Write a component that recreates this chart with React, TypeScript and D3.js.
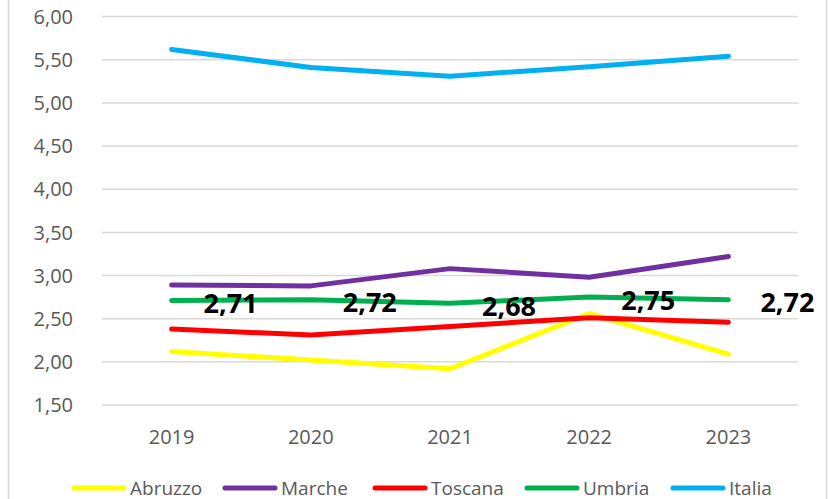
import React from "react";
import * as d3 from "d3";

const years = ["2019", "2020", "2021", "2022", "2023"];
const abruzzo = [2.12, 2.02, 1.92, 2.56, 2.09];
const marche = [2.89, 2.88, 3.08, 2.98, 3.22];
const toscana = [2.38, 2.31, 2.41, 2.51, 2.46];
const umbria = [2.71, 2.72, 2.68, 2.75, 2.72];
const italia = [5.62, 5.41, 5.31, 5.42, 5.54];
const yTicks = [1.5, 2, 2.5, 3, 3.5, 4, 4.5, 5, 5.5, 6];

const series = [
  { name: "Abruzzo", values: abruzzo, color: "#FFFF00" },
  { name: "Marche", values: marche, color: "#7030A0" },
  { name: "Toscana", values: toscana, color: "#FF0000" },
  { name: "Umbria", values: umbria, color: "#00B050" },
  { name: "Italia", values: italia, color: "#00B0F0" },
];

const legendX = [72, 223, 373, 525, 671];

export default function App() {
  const W = 828, H = 499;
  const x = d3.scaleBand<string>().domain(years).range([102, 798]);
  const y = d3.scaleLinear().domain([1.5, 6]).range([405, 16.6]);
  const cx = (d: string) => (x(d) as number) + x.bandwidth() / 2;
  const line = d3
    .line<number>()
    .x((_, i) => cx(years[i]))
    .y((v) => y(v));
  const fmt = (v: number) => v.toFixed(2).replace(".", ",");
  const font = "'Open Sans', 'Noto Sans', sans-serif";

  return (
    <svg
      width={W}
      height={H}
      style={{ position: "absolute", left: 0, top: 0, background: "#fff" }}
      fontFamily={font}
    >
      <rect x={8.5} y={-5} width={818} height={H + 10} fill="#fff" stroke="#D9D9D9" strokeWidth={1.5} />
      {yTicks.map((t) => (
        <g key={t}>
          <line x1={102} x2={798} y1={y(t)} y2={y(t)} stroke="#D9D9D9" strokeWidth={1.5} />
          <text x={73} y={y(t)} dy="0.36em" textAnchor="end" fontSize={20} fill="#595959">
            {fmt(t)}
          </text>
        </g>
      ))}
      {years.map((yr) => (
        <text key={yr} x={cx(yr)} y={444} textAnchor="middle" fontSize={20} fill="#595959">
          {yr}
        </text>
      ))}
      {series.map((s) => (
        <path
          key={s.name}
          d={line(s.values) as string}
          fill="none"
          stroke={s.color}
          strokeWidth={5}
          strokeLinecap="round"
          strokeLinejoin="round"
        />
      ))}
      {umbria.map((v, i) => (
        <text
          key={i}
          x={cx(years[i]) + 32}
          y={y(v) + 3}
          dy="0.36em"
          fontSize={27}
          fontWeight="bold"
          fill="#000"
        >
          {fmt(v)}
        </text>
      ))}
      {series.map((s, i) => (
        <g key={s.name}>
          <line
            x1={legendX[i] + 2}
            x2={legendX[i] + 52}
            y1={488}
            y2={488}
            stroke={s.color}
            strokeWidth={5}
            strokeLinecap="round"
          />
          <text x={legendX[i] + 58} y={495} fontSize={19} fill="#595959">
            {s.name}
          </text>
        </g>
      ))}
    </svg>
  );
}
